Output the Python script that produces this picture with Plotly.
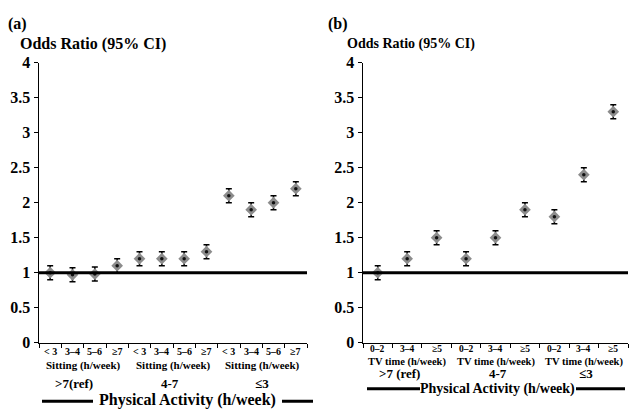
import plotly.graph_objects as go

W, H = 631, 416
FONT = "Liberation Serif"

# ---------------- data ----------------
a_cats = ["< 3", "3–4", "5–6", "≥7", "< 3", "3–4", "5–6", "≥7", "< 3", "3–4", "5–6", "≥7"]
a_or = [1.0, 0.97, 0.98, 1.1, 1.2, 1.2, 1.2, 1.3, 2.1, 1.9, 2.0, 2.2]
a_lo = [0.9, 0.87, 0.88, 1.0, 1.1, 1.1, 1.1, 1.2, 2.0, 1.8, 1.9, 2.1]
a_hi = [1.1, 1.07, 1.08, 1.2, 1.3, 1.3, 1.3, 1.4, 2.2, 2.0, 2.1, 2.3]
a_groups = [">7(ref)", "4-7", "≤3"]
a_sub = "Sitting (h/week)"

b_cats = ["0–2", "3–4", "≥5", "0–2", "3–4", "≥5", "0–2", "3–4", "≥5"]
b_or = [1.0, 1.2, 1.5, 1.2, 1.5, 1.9, 1.8, 2.4, 3.3]
b_lo = [0.9, 1.1, 1.4, 1.1, 1.4, 1.8, 1.7, 2.3, 3.2]
b_hi = [1.1, 1.3, 1.6, 1.3, 1.6, 2.0, 1.9, 2.5, 3.4]
b_groups = [">7 (ref)", "4-7", "≤3"]
b_sub = "TV time (h/week)"

y_title = "Odds Ratio (95% CI)"
x_title = "Physical Activity (h/week)"

def px_x(p):
    return p / W

def px_y(p):
    return 1 - p / H

fig = go.Figure()

def add_panel(cats, orr, lo, hi, xa, ya):
    xs = list(range(len(cats)))
    fig.add_trace(go.Scatter(
        x=xs, y=orr, mode="markers", xaxis=xa, yaxis=ya,
        marker=dict(symbol="diamond", size=9, color="#8c8c8c"),
        error_y=dict(type="data", symmetric=False,
                     array=[h - v for h, v in zip(hi, orr)],
                     arrayminus=[v - l for v, l in zip(orr, lo)],
                     color="black", thickness=1.5, width=3),
        showlegend=False, hoverinfo="skip"))
    fig.add_trace(go.Scatter(
        x=xs, y=orr, mode="markers", xaxis=xa, yaxis=ya,
        marker=dict(symbol="circle", size=3.5, color="#111111"),
        showlegend=False, hoverinfo="skip"))

add_panel(a_cats, a_or, a_lo, a_hi, "x", "y")
add_panel(b_cats, b_or, b_lo, b_hi, "x2", "y2")

ydom = [px_y(349), px_y(57)]

def xaxis_cfg(n, x0, x1):
    return dict(domain=[px_x(x0), px_x(x1)], range=[-0.5, n - 0.5],
                tickvals=[i - 0.5 for i in range(n + 1)],
                ticktext=[""] * (n + 1),
                ticks="outside", ticklen=4, tickwidth=1, tickcolor="black",
                showline=True, linecolor="black", linewidth=1.5,
                showgrid=False, zeroline=False, fixedrange=True)

def yaxis_cfg(anchor, size):
    return dict(domain=ydom, range=[0, 4], dtick=0.5, anchor=anchor,
                ticks="outside", ticklen=4, tickwidth=1, tickcolor="black",
                showline=True, linecolor="black", linewidth=1.5,
                showgrid=False, zeroline=False, fixedrange=True,
                tickfont=dict(family=FONT, size=size, color="black", weight="bold"))

fig.update_layout(
    width=W, height=H, margin=dict(l=0, r=0, t=0, b=0),
    paper_bgcolor="white", plot_bgcolor="white",
    xaxis=dict(**xaxis_cfg(len(a_cats), 39, 307), anchor="y"),
    xaxis2=dict(**xaxis_cfg(len(b_cats), 363, 628), anchor="y2"),
    yaxis=yaxis_cfg("x", 16),
    yaxis2=yaxis_cfg("x2", 16),
)

ann = []
shapes = []

def txt(text, x, y, size, xref="paper", xanchor="center", xshift=0):
    ann.append(dict(text=text, x=x, y=y, xref=xref, yref="paper",
                    xanchor=xanchor, yanchor="middle", showarrow=False, xshift=xshift,
                    font=dict(family=FONT, size=size, color="black", weight="bold")))

# reference lines at OR = 1
for xr, yr in [("x", "y"), ("x2", "y2")]:
    shapes.append(dict(type="line", xref=xr + " domain", yref=yr, x0=0, x1=1, y0=1, y1=1,
                       line=dict(color="black", width=3)))

# panel (a)
txt("(a)", px_x(17), px_y(17), 16)
txt(y_title, px_x(18), px_y(38), 16, xanchor="left")
for i, c in enumerate(a_cats):
    txt(c, i, px_y(358), 10, xref="x")
for g, name in enumerate(a_groups):
    center = g * 4 + 1.5
    txt(a_sub, center, px_y(373), 11, xref="x")
    txt(name, center, px_y(392), 13, xref="x", xshift=(-10 if g == 0 else -3 if g == 1 else 0))
txt(x_title, px_x(187), px_y(409), 16)
for x0, x1 in [(42, 93), (282, 313)]:
    shapes.append(dict(type="line", xref="paper", yref="paper", x0=px_x(x0), x1=px_x(x1),
                       y0=px_y(410), y1=px_y(410), line=dict(color="black", width=3)))

# panel (b)
txt("(b)", px_x(338), px_y(17), 16)
txt(y_title, px_x(345), px_y(38), 14, xanchor="left")
for i, c in enumerate(b_cats):
    txt(c, i, px_y(356), 9.5, xref="x2")
for g, name in enumerate(b_groups):
    center = g * 3 + 1
    txt(b_sub, center, px_y(369), 10.5, xref="x2")
    txt(name, center, px_y(381), 13, xref="x2", xshift=(-8 if g == 0 else 2))
txt(x_title, px_x(497), px_y(397), 14)
for x0, x1 in [(367, 420), (576, 625)]:
    shapes.append(dict(type="line", xref="paper", yref="paper", x0=px_x(x0), x1=px_x(x1),
                       y0=px_y(397), y1=px_y(397), line=dict(color="black", width=3)))

fig.update_layout(annotations=ann, shapes=shapes)
fig.write_html("out.html", config={"displayModeBar": False, "staticPlot": True},
               post_script="document.body.style.margin='0';document.body.style.overflow='hidden';")
